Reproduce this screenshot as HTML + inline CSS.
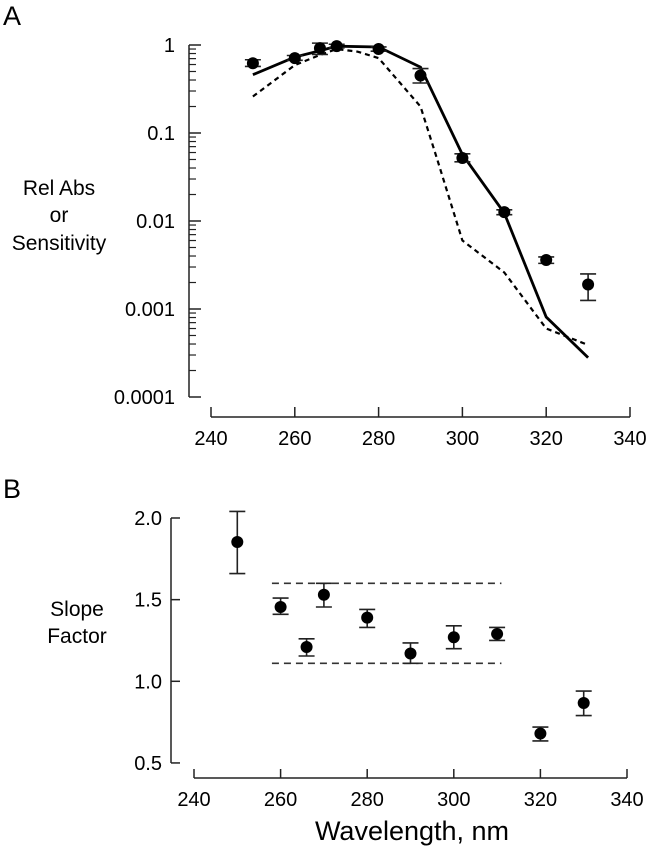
<!DOCTYPE html>
<html><head><meta charset="utf-8"><style>
html,body{margin:0;padding:0;background:#fff;}
svg{display:block;font-family:"Liberation Sans",Arial,sans-serif;}
</style></head><body>
<svg id="fig" width="647" height="853" viewBox="0 0 647 853" xmlns="http://www.w3.org/2000/svg">
<text x="3" y="25" font-size="27">A</text>
<text x="3" y="498" font-size="27">B</text>
<g font-size="21" text-anchor="middle">
<text x="59" y="195">Rel Abs</text><text x="59" y="222">or</text><text x="59" y="250">Sensitivity</text></g>
<g font-size="21" text-anchor="middle">
<text x="77" y="616">Slope</text><text x="77" y="643">Factor</text></g>
<text x="412" y="840" font-size="27" text-anchor="middle">Wavelength, nm</text>
<g id="ga"></g><g id="gb"></g>
</svg>
<script>
// Panel A data
const wlA = [250,260,266,270,280,290,300,310,320,330];
const absA = [0.62,0.71,0.92,0.97,0.90,0.45,0.052,0.0126,0.0036,0.0019];
const absHi = [0.68,0.76,1.05,1.02,0.95,0.54,0.058,0.0134,0.0039,0.0025];
const absLo = [0.57,0.67,0.78,0.93,0.85,0.37,0.047,0.0118,0.0033,0.00125];
const solidWl = [250,260,266,270,280,290,300,310,320,330];
const solidVal = [0.46,0.73,0.86,0.97,0.95,0.56,0.057,0.0123,0.00081,0.00028];
const dashWl = [250,260,266,270,275,280,290,294,300,310,320,330];
const dashVal = [0.26,0.59,0.77,0.90,0.84,0.71,0.20,0.05,0.006,0.0026,0.0006,0.00039];
const yTicksA = [1,0.1,0.01,0.001,0.0001];
const yTickLabelsA = ["1","0.1","0.01","0.001","0.0001"];
const xTicks = [240,260,280,300,320,340];
// Panel B data
const wlB = [250,260,266,270,280,290,300,310,320,330];
const slope = [1.853,1.455,1.21,1.53,1.39,1.17,1.27,1.29,0.68,0.867];
const slopeHi = [2.04,1.51,1.26,1.60,1.44,1.235,1.34,1.33,0.72,0.94];
const slopeLo = [1.66,1.41,1.155,1.455,1.33,1.11,1.20,1.25,0.635,0.79];
const bandWl = [258,311];
const bandVals = [1.6,1.11];
const yTicksB = [2.0,1.5,1.0,0.5];
const yTickLabelsB = ["2.0","1.5","1.0","0.5"];

const NS="http://www.w3.org/2000/svg";
function mk(parent,tag,attrs){const e=document.createElementNS(NS,tag);for(const k in attrs)e.setAttribute(k,attrs[k]);parent.appendChild(e);return e;}
const xA=v=>211+(v-240)*4.19;
const yA=v=>45-Math.log10(v)*88;
const xB=v=>194+(v-240)*4.33;
const yB=v=>518-(v-2.0)*163.3;
const ga=document.getElementById('ga'), gb=document.getElementById('gb');

let ax=mk(ga,'path',{d:`M189 ${yA(1)} V${yA(0.0001)}`,stroke:'#222','stroke-width':1.5,fill:'none'});

for(let d=0;d<4;d++){for(let m=2;m<10;m++){const val=m*Math.pow(10,-(d+1));
 const t=mk(ga,'line',{x1:189,x2:196,y1:yA(val),y2:yA(val),stroke:'#222','stroke-width':1.2});
 }}
yTicksA.forEach((v,i)=>{const t=mk(ga,'line',{x1:189,x2:201,y1:yA(v),y2:yA(v),stroke:'#222','stroke-width':1.5});
 
 const l=mk(ga,'text',{x:175,y:yA(v)+7,'font-size':20,'text-anchor':'end'});l.textContent=yTickLabelsA[i];
 });
let xa=mk(ga,'path',{d:`M${xA(240)} 417 H${xA(340)}`,stroke:'#222','stroke-width':1.5,fill:'none'});

xTicks.forEach(v=>{const t=mk(ga,'line',{x1:xA(v),x2:xA(v),y1:417,y2:407,stroke:'#222','stroke-width':1.5});
 
 const l=mk(ga,'text',{x:xA(v),y:445,'font-size':20,'text-anchor':'middle'});l.textContent=v;
 });
let sp=mk(ga,'polyline',{points:solidWl.map((w,i)=>xA(w)+','+yA(solidVal[i])).join(' '),fill:'none',stroke:'#000','stroke-width':2.8});

let dp=mk(ga,'polyline',{points:dashWl.map((w,i)=>xA(w)+','+yA(dashVal[i])).join(' '),fill:'none',stroke:'#000','stroke-width':2.2,'stroke-dasharray':'5,4'});

wlA.forEach((w,i)=>{const x=xA(w);
 const e=mk(ga,'path',{d:`M${x} ${yA(absHi[i])} V${yA(absLo[i])} M${x-8} ${yA(absHi[i])} H${x+8} M${x-8} ${yA(absLo[i])} H${x+8}`,stroke:'#222','stroke-width':1.6,fill:'none'});
 
 const c=mk(ga,'circle',{cx:x,cy:yA(absA[i]),r:6,fill:'#000'});
 });

let ayb=mk(gb,'path',{d:`M171 ${yB(2.0)} V${yB(0.5)}`,stroke:'#222','stroke-width':1.5,fill:'none'});

yTicksB.forEach((v,i)=>{const t=mk(gb,'line',{x1:171,x2:180,y1:yB(v),y2:yB(v),stroke:'#222','stroke-width':1.5});
 
 const l=mk(gb,'text',{x:162,y:yB(v)+7,'font-size':20,'text-anchor':'end'});l.textContent=yTickLabelsB[i];
 });
let xb=mk(gb,'path',{d:`M${xB(240)} 778 H${xB(340)}`,stroke:'#222','stroke-width':1.5,fill:'none'});

xTicks.forEach(v=>{const t=mk(gb,'line',{x1:xB(v),x2:xB(v),y1:778,y2:769,stroke:'#222','stroke-width':1.5});
 
 const l=mk(gb,'text',{x:xB(v),y:806,'font-size':20,'text-anchor':'middle'});l.textContent=v;
 });
bandVals.forEach(v=>{const l=mk(gb,'line',{x1:xB(bandWl[0]),x2:xB(bandWl[1]),y1:yB(v),y2:yB(v),stroke:'#333','stroke-width':1.6,'stroke-dasharray':'7,5'});
 });
wlB.forEach((w,i)=>{const x=xB(w);
 const e=mk(gb,'path',{d:`M${x} ${yB(slopeHi[i])} V${yB(slopeLo[i])} M${x-8} ${yB(slopeHi[i])} H${x+8} M${x-8} ${yB(slopeLo[i])} H${x+8}`,stroke:'#222','stroke-width':1.6,fill:'none'});
 
 const c=mk(gb,'circle',{cx:x,cy:yB(slope[i]),r:6,fill:'#000'});
 });
</script>
</body></html>
